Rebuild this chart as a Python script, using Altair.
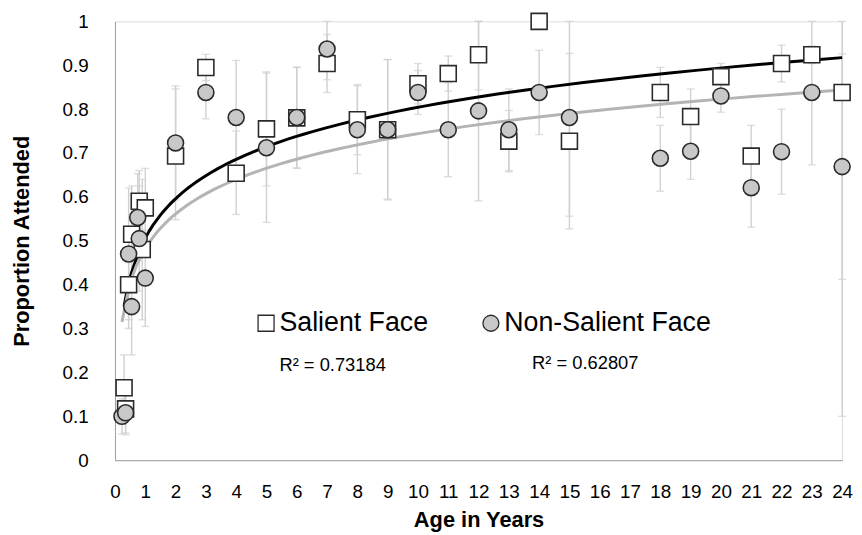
import altair as alt
import pandas as pd

# ---- data ----
sal_age = [0.30, 0.35, 0.45, 0.55, 0.80, 0.90, 1.00, 2, 3, 4, 5, 6, 7, 8, 9, 10, 11, 12, 13, 14, 15, 18, 19, 20, 21, 22, 23, 24]
sal_val = [0.165, 0.117, 0.40, 0.515, 0.59, 0.48, 0.575, 0.693, 0.895, 0.654, 0.755, 0.78, 0.904, 0.776, 0.753, 0.858, 0.881, 0.924, 0.727, 1.0, 0.727, 0.838, 0.783, 0.874, 0.693, 0.904, 0.924, 0.838]
sal_lo = [0.09, 0.062, 0.30, 0.405, 0.52, 0.32, 0.485, 0.548, 0.865, 0.56, 0.625, 0.665, 0.838, 0.696, 0.595, 0.812, 0.841, 0.844, 0.657, 1.0, 0.527, 0.781, 0.72, 0.844, 0.623, 0.862, 0.904, 0.10]
sal_hi = [0.24, 0.172, 0.50, 0.625, 0.66, 0.64, 0.665, 0.846, 0.925, 0.75, 0.885, 0.895, 0.97, 0.856, 0.913, 0.904, 0.921, 1.0, 0.797, 1.0, 0.927, 0.895, 0.846, 0.904, 0.763, 0.946, 0.944, 1.0]

non_age = [0.23, 0.35, 0.45, 0.55, 0.75, 0.80, 1.00, 2, 3, 4, 5, 6, 7, 8, 9, 10, 11, 12, 13, 14, 15, 18, 19, 20, 21, 22, 23, 24]
non_val = [0.10, 0.108, 0.47, 0.35, 0.553, 0.505, 0.415, 0.723, 0.838, 0.781, 0.712, 0.781, 0.937, 0.753, 0.753, 0.838, 0.753, 0.796, 0.753, 0.838, 0.781, 0.688, 0.704, 0.83, 0.621, 0.703, 0.838, 0.669]
non_lo = [0.06, 0.058, 0.32, 0.24, 0.453, 0.385, 0.305, 0.593, 0.778, 0.651, 0.542, 0.666, 0.867, 0.653, 0.593, 0.788, 0.646, 0.591, 0.66, 0.742, 0.556, 0.613, 0.64, 0.793, 0.531, 0.606, 0.673, 0.412]
non_hi = [0.14, 0.158, 0.62, 0.46, 0.653, 0.625, 0.525, 0.853, 0.898, 0.911, 0.882, 0.896, 1.0, 0.853, 0.913, 0.888, 0.86, 1.0, 0.846, 0.934, 1.0, 0.763, 0.768, 0.867, 0.711, 0.80, 1.0, 0.926]

series_names = ["Salient Face", "Non-Salient Face"]
r2_texts = ["R\u00b2 = 0.73184", "R\u00b2 = 0.62807"]
x_ticks = list(range(0, 25))
y_ticks = [i / 10 for i in range(0, 11)]

rows = []
for a, v, lo, hi in zip(sal_age, sal_val, sal_lo, sal_hi):
    rows.append({"age": a, "value": v, "lo": lo, "hi": hi, "series": series_names[0], "grp": "s"})
for a, v, lo, hi in zip(non_age, non_val, non_lo, non_hi):
    rows.append({"age": a, "value": v, "lo": lo, "hi": hi, "series": series_names[1], "grp": "n"})
df = pd.DataFrame(rows)

FONT = "Liberation Sans"

x_scale = alt.Scale(domain=[0, 24], nice=False, zero=False)
y_scale = alt.Scale(domain=[0, 1], nice=False)

x_axis = alt.Axis(values=x_ticks, title="Age in Years", grid=False, ticks=False, tickSize=0,
                  labelFontSize=19, labelPadding=23, labelColor="#000", labelFont=FONT,
                  domainColor="#a0a0a0", domainWidth=1,
                  titleFont=FONT, titleFontSize=22, titleFontWeight="bold", titleColor="#000",
                  titleBaseline="alphabetic", titleY=67, labelFlush=False, labelOverlap=False)
y_axis = alt.Axis(values=y_ticks, title="Proportion Attended", format="~g", grid=False, ticks=False, tickSize=0,
                  labelFontSize=19, labelPadding=27, labelColor="#000", labelFont=FONT,
                  domainColor="#a0a0a0", domainWidth=1,
                  titleFont=FONT, titleFontSize=22, titleFontWeight="bold", titleColor="#000",
                  titleAngle=270, titleBaseline="alphabetic", titleX=-87, titleY=221.5, titleAlign="center",
                  labelFlush=False, labelOverlap=False)


def X(field="age"):
    return alt.X(f"{field}:Q", scale=x_scale, axis=x_axis)


def Y(field):
    return alt.Y(f"{field}:Q", scale=y_scale, axis=y_axis)


base = alt.Chart(df)
BAR = "#d0d0d0"
EDGE = "#2a2a2a"

err = base.mark_rule(color=BAR, strokeWidth=1.4).encode(x=X(), y=Y("lo"), y2="hi:Q")
cap_lo = base.mark_tick(orient="horizontal", color=BAR, size=8, thickness=1.4).encode(x=X(), y=Y("lo"))
cap_hi = base.mark_tick(orient="horizontal", color=BAR, size=8, thickness=1.4).encode(x=X(), y=Y("hi"))

trend = base.transform_regression("age", "value", method="log", groupby=["grp"]).mark_line(
    strokeWidth=3).encode(
    x=X(), y=Y("value"),
    color=alt.Color("grp:N", scale=alt.Scale(domain=["s", "n"], range=["#000000", "#b4b4b4"]), legend=None),
)

legend = alt.Legend(orient="none", legendX=139, legendY=291, direction="horizontal", title=None,
                    labelFontSize=27, labelFont=FONT, labelColor="#000", labelLimit=400, symbolSize=260,
                    symbolStrokeWidth=1.3, columnPadding=49,
                    labelOffset=0, padding=0, symbolOpacity=1)

points = base.mark_point(filled=True, strokeWidth=1.6, opacity=1, size=260).encode(
    x=X(), y=Y("value"),
    shape=alt.Shape("series:N", scale=alt.Scale(domain=series_names, range=["square", "circle"]), legend=legend),
    fill=alt.Fill("series:N", scale=alt.Scale(domain=series_names, range=["#ffffff", "#c8c8c8"]), legend=legend),
    stroke=alt.Stroke("series:N", scale=alt.Scale(domain=series_names, range=[EDGE, EDGE]), legend=legend),
)

r2_df = pd.DataFrame({"txt": r2_texts, "px": [166, 421], "py": [347, 345]})
r2 = alt.Chart(r2_df).mark_text(font=FONT, fontSize=18.5, align="left", baseline="middle", color="#000").encode(
    text="txt:N", x=alt.X("px:Q", scale=None, axis=None), y=alt.Y("py:Q", scale=None, axis=None))

chart = alt.layer(err, cap_lo, cap_hi, trend, points, r2).properties(
    width=734, height=443,
    autosize=alt.AutoSizeParams(type="none"),
    padding={"left": 108, "top": 11, "right": 12, "bottom": 71},
).configure_view(stroke=None).configure(background="white")

chart.save("out.html", embed_options={"renderer": "svg", "actions": False})
